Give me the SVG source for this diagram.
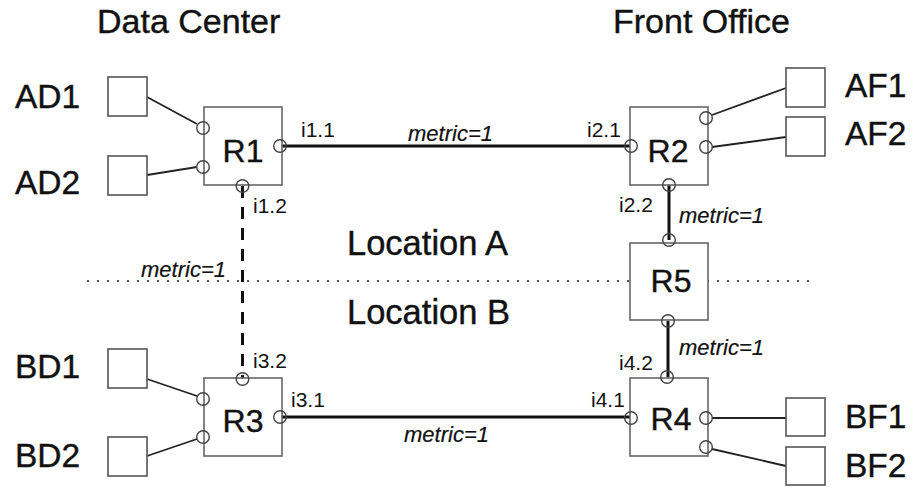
<svg xmlns="http://www.w3.org/2000/svg" width="912" height="487" viewBox="0 0 912 487">
  <style>
    text { font-family: "Liberation Sans", Arial, sans-serif; fill: #111; }
    .title { font-size: 34px; stroke: #111; stroke-width: 0.4; }
    .host-label { font-size: 33.5px; stroke: #111; stroke-width: 0.4; }
    .router-label { font-size: 32px; text-anchor: middle; stroke: #111; stroke-width: 0.4; }
    .ifname { font-size: 21px; }
    .metric { font-size: 22px; font-style: italic; stroke: #111; stroke-width: 0.2; }
    .loc { font-size: 34.5px; stroke: #111; stroke-width: 0.4; }
    .router { fill: #fff; stroke: #666; stroke-width: 1.6; }
    .host { fill: #fff; stroke: #555; stroke-width: 1.6; }
    .port { fill: none; stroke: #444; stroke-width: 1.4; }
    .link { stroke: #111; stroke-width: 3; fill: none; }
    .backup { stroke: #111; stroke-width: 3; stroke-dasharray: 12 9; fill: none; }
    .access { stroke: #222; stroke-width: 1.8; fill: none; }
    .divider { stroke: #555; stroke-width: 2; stroke-dasharray: 2 8; fill: none; }
  </style>

  <!-- section headings -->
  <text class="title" x="97" y="33">Data Center</text>
  <text class="title" x="613" y="33">Front Office</text>

  <!-- boundary between locations -->
  <line class="divider" x1="87" y1="281" x2="812" y2="281"/>
  <text class="loc" x="347" y="255">Location A</text>
  <text class="loc" x="347" y="324">Location B</text>

  <!-- connectors -->
  <g id="connectors">
    <line class="link" x1="280" y1="146" x2="631" y2="146"/>
    <line class="link" x1="669" y1="185" x2="669" y2="240"/>
    <line class="link" x1="668" y1="321" x2="668" y2="377"/>
    <line class="link" x1="280" y1="417" x2="631" y2="417"/>
    <line class="backup" x1="242.5" y1="186" x2="242.5" y2="379"/>

    <line class="access" x1="147" y1="97" x2="197" y2="124"/>
    <line class="access" x1="147" y1="175" x2="197" y2="167"/>
    <line class="access" x1="712" y1="115" x2="786" y2="88"/>
    <line class="access" x1="712" y1="147" x2="786" y2="137"/>
    <line class="access" x1="147" y1="379" x2="197" y2="396"/>
    <line class="access" x1="147" y1="456" x2="197" y2="439"/>
    <line class="access" x1="712" y1="418" x2="786" y2="418"/>
    <line class="access" x1="712" y1="449" x2="786" y2="466"/>

    <text class="metric" x="408" y="141">metric=1</text>
    <text class="metric" x="404" y="442">metric=1</text>
    <text class="metric" x="141" y="277">metric=1</text>
    <text class="metric" x="679" y="223">metric=1</text>
    <text class="metric" x="679" y="355">metric=1</text>
  </g>

  <!-- routers -->
  <g id="R1">
    <rect class="router" x="204" y="107" width="78" height="78"/>
    <text class="router-label" x="243" y="162">R1</text>
    <circle class="port" cx="203" cy="128" r="6.3"/>
    <circle class="port" cx="203" cy="167" r="6.3"/>
    <circle class="port" cx="280" cy="146" r="6.3"/>
    <circle class="port" cx="242.5" cy="186" r="6.3"/>
    <text class="ifname" x="301" y="137">i1.1</text>
    <text class="ifname" x="253" y="213">i1.2</text>
  </g>
  <g id="R2">
    <rect class="router" x="630" y="107" width="78" height="78"/>
    <text class="router-label" x="668" y="162">R2</text>
    <circle class="port" cx="631" cy="146" r="6.3"/>
    <circle class="port" cx="706" cy="118" r="6.3"/>
    <circle class="port" cx="706" cy="147" r="6.3"/>
    <circle class="port" cx="669" cy="185" r="6.3"/>
    <text class="ifname" x="587" y="137">i2.1</text>
    <text class="ifname" x="619" y="212">i2.2</text>
  </g>
  <g id="R5">
    <rect class="router" x="630" y="243" width="78" height="77"/>
    <text class="router-label" x="671" y="292">R5</text>
    <circle class="port" cx="669" cy="240" r="6.3"/>
    <circle class="port" cx="668" cy="321" r="6.3"/>
  </g>
  <g id="R3">
    <rect class="router" x="204" y="378" width="78" height="78"/>
    <text class="router-label" x="243" y="432">R3</text>
    <circle class="port" cx="242.5" cy="379" r="6.3"/>
    <circle class="port" cx="203" cy="399" r="6.3"/>
    <circle class="port" cx="203" cy="437" r="6.3"/>
    <circle class="port" cx="280" cy="417" r="6.3"/>
    <text class="ifname" x="253" y="368">i3.2</text>
    <text class="ifname" x="291" y="407">i3.1</text>
  </g>
  <g id="R4">
    <rect class="router" x="630" y="378" width="78" height="78"/>
    <text class="router-label" x="671" y="430">R4</text>
    <circle class="port" cx="667" cy="377" r="6.3"/>
    <circle class="port" cx="631" cy="418" r="6.3"/>
    <circle class="port" cx="706" cy="418" r="6.3"/>
    <circle class="port" cx="706" cy="447" r="6.3"/>
    <text class="ifname" x="591" y="407">i4.1</text>
    <text class="ifname" x="619" y="370">i4.2</text>
  </g>

  <!-- hosts -->
  <g id="AD1">
    <rect class="host" x="108" y="77" width="39" height="39"/>
    <text class="host-label" x="15" y="108">AD1</text>
  </g>
  <g id="AD2">
    <rect class="host" x="108" y="156" width="39" height="39"/>
    <text class="host-label" x="15" y="194">AD2</text>
  </g>
  <g id="BD1">
    <rect class="host" x="108" y="349" width="39" height="39"/>
    <text class="host-label" x="15" y="378">BD1</text>
  </g>
  <g id="BD2">
    <rect class="host" x="108" y="437" width="39" height="39"/>
    <text class="host-label" x="15" y="467">BD2</text>
  </g>
  <g id="AF1">
    <rect class="host" x="786" y="68" width="39" height="39"/>
    <text class="host-label" x="845" y="97">AF1</text>
  </g>
  <g id="AF2">
    <rect class="host" x="786" y="117" width="39" height="39"/>
    <text class="host-label" x="845" y="145">AF2</text>
  </g>
  <g id="BF1">
    <rect class="host" x="786" y="398" width="39" height="38"/>
    <text class="host-label" x="845" y="428">BF1</text>
  </g>
  <g id="BF2">
    <rect class="host" x="786" y="447" width="39" height="38"/>
    <text class="host-label" x="845" y="477">BF2</text>
  </g>
</svg>
